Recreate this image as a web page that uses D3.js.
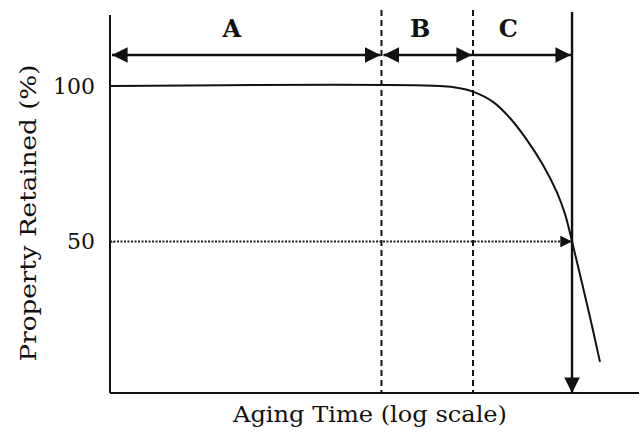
<!DOCTYPE html>
<html>
<head>
<meta charset="utf-8">
<script src="https://cdn.jsdelivr.net/npm/d3@7"></script>
<style>
  body { margin: 0; background: #fff; }
  svg { display: block; }
  text { font-family: "DejaVu Serif", "Liberation Serif", serif; fill: #111; }
</style>
</head>
<body>
<div class="chart-container"></div>
<script>
// --- Data ---

// aging time (hours, log scale) and property retained (%) along the curve
const curveTime = [1, 5500, 9300, 13100, 22100, 34400, 53700, 81500, 117000, 145000, 174000, 278000, 361000];
const curveValue = [100, 100, 99.3, 98.2, 94.9, 89.7, 82.6, 74.6, 65.9, 58.8, 50, 25.7, 11.3];

// regions on the time axis and where their letters sit
const regionNames = ["A", "B", "C"];
const regionStart = [1, 1200, 13100];
const regionEnd = [1200, 13100, 174000];
const labelTime = [24, 3300, 33000];

// y tick labels
const yTicks = [50, 100];

// --- Layout ---
const w = 639;
const h = 432;
const left = 110;
const right = 639;
const plotTop = 15;
const plotBottom = 393;

const xScale = d3.scaleLog()
    .domain([1, 1e6])
    .range([left, right]);

const yScale = d3.scaleLinear()
    .domain([0, 100])
    .range([397, 86]);

const svg = d3.select(".chart-container")
    .append("svg")
    .attr("width", w)
    .attr("height", h);

// arrowhead marker
svg.append("defs")
    .append("marker")
    .attr("id", "head")
    .attr("viewBox", "0 0 10 10")
    .attr("refX", 10)
    .attr("refY", 5)
    .attr("markerWidth", 6.5)
    .attr("markerHeight", 6.5)
    .attr("markerUnits", "strokeWidth")
    .attr("orient", "auto-start-reverse")
    .append("path")
    .attr("d", "M0,0 L10,5 L0,10 Z")
    .attr("fill", "#111");

// y axis: labels plus short inward ticks
const yAxis = d3.axisLeft(yScale)
    .tickValues(yTicks)
    .tickSizeInner(-5)
    .tickSizeOuter(0)
    .tickPadding(15);

const gy = svg.append("g")
    .attr("transform", "translate(" + left + ",0)")
    .call(yAxis);
gy.select(".domain").remove();
gy.selectAll(".tick line").attr("stroke", "#444");
gy.selectAll("text")
    .attr("font-size", "22px")
    .attr("font-family", "DejaVu Serif, serif")
    .attr("fill", "#111");

svg.append("line")
    .attr("x1", left).attr("x2", left)
    .attr("y1", plotTop).attr("y2", plotBottom)
    .attr("stroke", "#111").attr("stroke-width", 2);

svg.append("line")
    .attr("x1", left).attr("x2", right)
    .attr("y1", plotBottom).attr("y2", plotBottom)
    .attr("stroke", "#111").attr("stroke-width", 2);

// dashed region dividers
svg.selectAll("line.divider")
    .data(regionEnd.slice(0, 2))
    .enter()
    .append("line")
    .attr("class", "divider")
    .attr("x1", function (d) { return xScale(d); })
    .attr("x2", function (d) { return xScale(d); })
    .attr("y1", 10)
    .attr("y2", plotBottom)
    .attr("stroke", "#111")
    .attr("stroke-width", 2)
    .attr("stroke-dasharray", "6,4");

// dotted line at 50% with arrow to failure time
const failTime = regionEnd[2];
svg.append("line")
    .attr("x1", left)
    .attr("x2", xScale(failTime))
    .attr("y1", yScale(50))
    .attr("y2", yScale(50))
    .attr("stroke", "#222")
    .attr("stroke-width", 1.8)
    .attr("stroke-dasharray", "2,1.5")
    .attr("marker-end", "url(#head)");

// solid vertical at failure time with arrow down
svg.append("line")
    .attr("x1", xScale(failTime))
    .attr("x2", xScale(failTime))
    .attr("y1", 12)
    .attr("y2", plotBottom)
    .attr("stroke", "#111")
    .attr("stroke-width", 2.4)
    .attr("marker-end", "url(#head)");

// region arrows along the top
const arrowY = 55;
svg.selectAll("line.region")
    .data(regionNames)
    .enter()
    .append("line")
    .attr("class", "region")
    .attr("x1", function (d, i) { return xScale(regionStart[i]) + (i === 2 ? 0 : 2); })
    .attr("x2", function (d, i) { return xScale(regionEnd[i]) - 1; })
    .attr("y1", arrowY)
    .attr("y2", arrowY)
    .attr("stroke", "#111")
    .attr("stroke-width", 2.4)
    .attr("marker-start", function (d, i) { return i === 2 ? null : "url(#head)"; })
    .attr("marker-end", "url(#head)");

svg.selectAll("text.region")
    .data(regionNames)
    .enter()
    .append("text")
    .attr("class", "region")
    .attr("x", function (d, i) { return xScale(labelTime[i]); })
    .attr("y", 37)
    .attr("text-anchor", "middle")
    .attr("font-size", "24px")
    .attr("font-weight", "bold")
    .text(function (d) { return d; });

// the retention curve
const line = d3.line()
    .x(function (d, i) { return xScale(curveTime[i]); })
    .y(function (d) { return yScale(d); })
    .curve(d3.curveCatmullRom.alpha(0.5));

svg.append("path")
    .datum(curveValue)
    .attr("d", line)
    .attr("fill", "none")
    .attr("stroke", "#111")
    .attr("stroke-width", 2);

// axis titles
svg.append("text")
    .attr("x", 370)
    .attr("y", 422)
    .attr("text-anchor", "middle")
    .attr("font-size", "23px")
    .attr("textLength", 274)
    .attr("lengthAdjust", "spacingAndGlyphs")
    .text("Aging Time (log scale)");

svg.append("text")
    .attr("transform", "translate(36,213) rotate(-90)")
    .attr("text-anchor", "middle")
    .attr("font-size", "23px")
    .attr("textLength", 297)
    .attr("lengthAdjust", "spacingAndGlyphs")
    .text("Property Retained (%)");
</script>
</body>
</html>
